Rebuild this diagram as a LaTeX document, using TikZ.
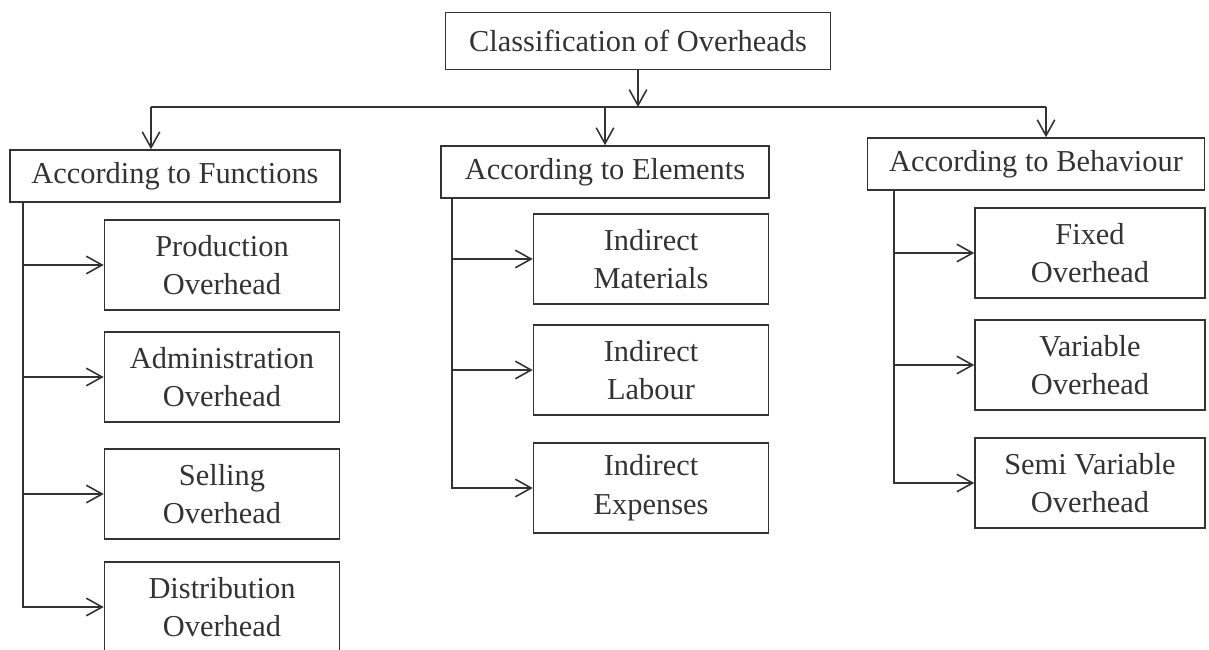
\documentclass[tikz,border=0pt]{standalone}
\usepackage{fontspec}
\setmainfont{Liberation Serif}
\usetikzlibrary{arrows.meta,calc}

\definecolor{ink}{HTML}{333333}
\def\functions{{(222,265)/prod/Production\\Overhead}, {(222,377)/admin/Administration\\Overhead}, {(222,494)/sell/Selling\\Overhead}, {(222,607)/dist/Distribution\\Overhead}}
\def\elements{{(651,259)/mat/Indirect\\Materials}, {(651,370)/lab/Indirect\\Labour}, {(651,488)/exp/Indirect\\Expenses}}
\def\behaviour{{(1090,253)/fix/Fixed\\Overhead}, {(1090,365)/var/Variable\\Overhead}, {(1090,483)/semi/Semi Variable\\Overhead}}
\tikzstyle{box} = [draw=ink, line width=0.9pt, rectangle, inner sep=0pt, text=ink, font=\fontsize{17.3}{22}\selectfont]
\tikzstyle{head} = [box, minimum height=1.04cm]
\tikzstyle{leaf} = [box, align=center, minimum width=4.7cm, minimum height=1.8cm]
\tikzstyle{edge} = [draw=ink, line width=0.9pt, -{Straight Barb[length=9pt,width=10pt]}]
\tikzstyle{line} = [draw=ink, line width=0.9pt, -]

\begin{document}
\begin{tikzpicture}[x=0.02cm, y=-0.02cm]
  \useasboundingbox (0,0) rectangle (1209,649);

  % The root and the three ways of grouping
  \node[head, minimum width=7.7cm, minimum height=1.14cm] (root) at (638,41) {Classification of Overheads};
  \node[head, minimum width=6.6cm] (fun) at (175,176) {According to Functions};
  \node[head, minimum width=6.56cm] (elem) at (605,172) {According to Elements};
  \node[head, minimum width=6.74cm] (behav) at (1036,164) {According to Behaviour};

  \coordinate (bar) at (root.south |- 0,107);
  \coordinate (barleft) at ($(fun.north)+(-24,0)$);
  \coordinate (barright) at ($(behav.north)+(10,0)$);

  \path[edge] (root) -- (bar);
  \path[line] (barleft |- bar) -- (barright |- bar);
  \path[edge] (barleft |- bar) -- (barleft);
  \path[edge] (elem.north |- bar) -- (elem);
  \path[edge] (barright |- bar) -- (barright);

  % The kinds under each heading
  \foreach \pos/\name/\txt in \functions
    \node[leaf] (\name) at \pos {\txt};
  \foreach \pos/\name/\txt in \elements
    \node[leaf] (\name) at \pos {\txt};
  \foreach \pos/\name/\txt in \behaviour
    \node[leaf, minimum width=4.6cm] (\name) at \pos {\txt};

  % The trunks down the left of each column
  \foreach \pos/\name/\txt in \functions
    \path[edge] ($(fun.south west)+(14,0)$) |- (\name);
  \foreach \pos/\name/\txt in \elements
    \path[edge] ($(elem.south west)+(12,0)$) |- (\name);
  \foreach \pos/\name/\txt in \behaviour
    \path[edge] ($(behav.south west)+(27,0)$) |- (\name);
\end{tikzpicture}
\end{document}
